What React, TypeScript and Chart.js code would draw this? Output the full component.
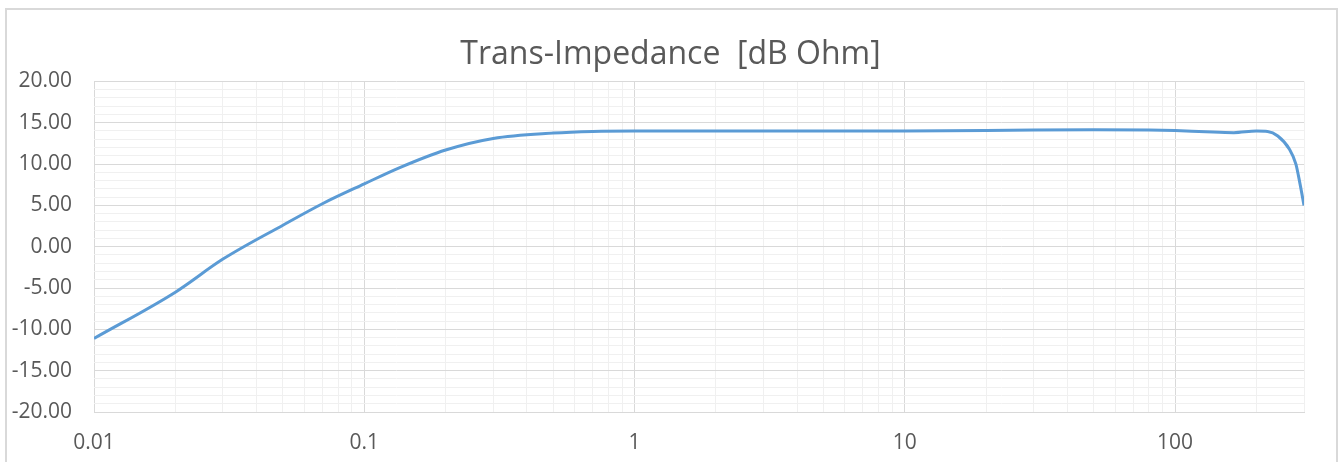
import React, { useEffect, useRef } from "react";
import { Chart, registerables } from "chart.js";

Chart.register(...registerables);

const TITLE = "Trans-Impedance  [dB Ohm]";
const FREQ = [0.01, 0.02, 0.03, 0.05, 0.07, 0.1, 0.136, 0.2, 0.3, 0.5, 0.7, 1, 2, 5, 10, 20, 30, 50, 80, 100, 130, 165, 200, 220, 240, 265, 280, 290, 300];
const GAIN = [-11.1, -5.5, -1.5, 2.6, 5.2, 7.6, 9.6, 11.7, 13.1, 13.75, 13.95, 14.0, 14.0, 14.0, 14.0, 14.05, 14.12, 14.15, 14.12, 14.05, 13.9, 13.8, 14.0, 13.95, 13.4, 11.8, 10.0, 7.6, 5.0];
const X_DECADES = [0.01, 0.1, 1, 10, 100];
const X_LABELS = ["0.01", "0.1", "1", "10", "100"];
const X_MAX = 300;
const Y_MIN = -20;
const Y_MAX = 20;

const TEXT = "#595959";
const MAJOR = "#d9d9d9";
const MINOR = "#f0f0f0";
const FONT = "'Open Sans', sans-serif";

const isDecade = (v: number) => Math.abs(Math.log10(v) - Math.round(Math.log10(v))) < 1e-9;

export default function App() {
  const ref = useRef<HTMLCanvasElement | null>(null);
  useEffect(() => {
    document.body.style.margin = "0";
    if (!ref.current) return;
    const xTicks: number[] = [];
    X_DECADES.forEach((d) => {
      for (let m = 1; m <= 9; m++) {
        const v = m * d;
        if (v <= X_MAX + 1e-9) xTicks.push(v);
      }
    });
    const chart = new Chart(ref.current, {
      type: "line",
      data: {
        datasets: [
          {
            data: FREQ.map((f, i) => ({ x: f, y: GAIN[i] })),
            borderColor: "#5b9bd5",
            borderWidth: 3,
            pointRadius: 0,
            cubicInterpolationMode: "monotone",
            fill: false,
          },
        ],
      },
      options: {
        animation: false,
        responsive: false,
        devicePixelRatio: 1,
        layout: { padding: 0 },
        plugins: {
          legend: { display: false },
          tooltip: { enabled: false },
          title: {
            display: true,
            text: TITLE,
            color: TEXT,
            font: { family: FONT, size: 32, weight: "normal", lineHeight: 1.2 },
            padding: { top: 36, bottom: 7 },
          },
        },
        scales: {
          x: {
            type: "logarithmic",
            min: 0.01,
            max: X_MAX,
            afterBuildTicks: (scale: any) => {
              scale.ticks = xTicks.map((v) => ({ value: v }));
            },
            afterFit: (scale: any) => {
              scale.height = 50;
            },
            grid: {
              drawTicks: false,
              color: (ctx: any) => (ctx.tick && isDecade(ctx.tick.value) ? MAJOR : MINOR),
              lineWidth: 1,
            },
            border: { display: true, color: MAJOR, width: 1 },
            ticks: {
              autoSkip: false,
              maxRotation: 0,
              padding: 18,
              color: TEXT,
              font: { family: FONT, size: 21 },
              callback: (value: any) => {
                const v = Number(value);
                const idx = X_DECADES.findIndex((d) => Math.abs(d - v) / d < 1e-9);
                return idx >= 0 ? X_LABELS[idx] : "";
              },
            },
          },
          y: {
            type: "linear",
            min: Y_MIN,
            max: Y_MAX,
            afterFit: (scale: any) => {
              scale.width = 94;
            },
            grid: {
              drawTicks: false,
              color: (ctx: any) => (ctx.tick && ctx.tick.value % 5 === 0 ? MAJOR : MINOR),
            },
            border: { display: false },
            ticks: {
              stepSize: 1,
              autoSkip: false,
              padding: 22,
              color: TEXT,
              font: { family: FONT, size: 21 },
              callback: (value: any) => (Number(value) % 5 === 0 ? Number(value).toFixed(2) : ""),
            },
          },
          yRight: {
            type: "linear",
            position: "right",
            display: true,
            min: Y_MIN,
            max: Y_MAX,
            grid: { display: false, drawTicks: false },
            border: { display: false },
            ticks: { display: false },
            afterFit: (scale: any) => {
              scale.width = 37;
            },
          },
        },
      } as any,
    });
    return () => chart.destroy();
  }, []);

  return (
    <div style={{ position: "relative", width: 1341, height: 462, overflow: "hidden", background: "#fff" }}>
      <canvas ref={ref} width={1341} height={462} style={{ position: "absolute", left: 0, top: 0 }} />
      <div
        style={{
          position: "absolute",
          left: 5,
          top: 8,
          width: 1333,
          height: 480,
          border: "2px solid #d9d9d9",
          boxSizing: "border-box",
          pointerEvents: "none",
        }}
      />
    </div>
  );
}
